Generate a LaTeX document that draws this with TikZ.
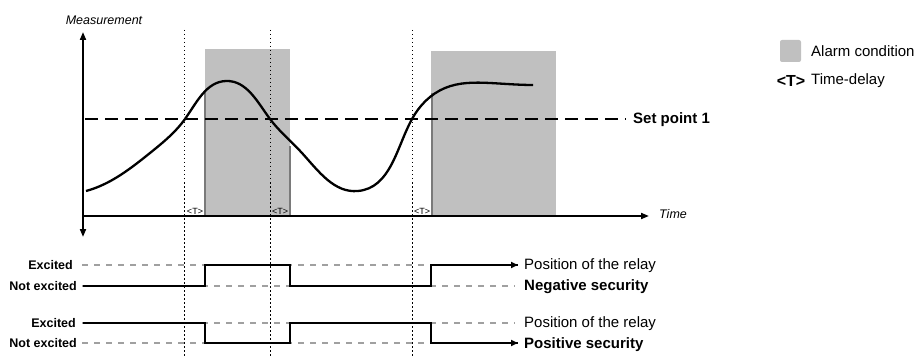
\documentclass[tikz,border=0pt]{standalone}
\usepackage{fontspec}
\setmainfont{Liberation Sans}
\usetikzlibrary{arrows.meta,hobby}
\definecolor{alarmgray}{HTML}{C0C0C0}
\definecolor{edgegray}{HTML}{7A7A7A}
\definecolor{dashgray}{HTML}{A0A0A0}
\newcommand{\fsz}[1]{\fontsize{#1}{#1}\selectfont}
\begin{document}
\begin{tikzpicture}[x=1pt,y=-1pt,
  axisline/.style={line width=1.8pt,black},
  tip/.style={-{Triangle[length=8pt,width=6pt]}},
  dotline/.style={black,line width=0.9pt,dash pattern=on 1.5pt off 2.5pt},
  setline/.style={black,line width=2.2pt,dash pattern=on 13pt off 7pt},
  greydash/.style={dashgray,line width=2pt,dash pattern=on 6pt off 6pt},
  relay/.style={black,line width=2.2pt},
  alarm/.style={fill=alarmgray,draw=none},
  edgeline/.style={edgegray,line width=2pt},
  lbl/.style={inner sep=0pt,font=\fsz{12.5}\bfseries,anchor=east},
  rtxt/.style={inner sep=0pt,font=\fsz{15},anchor=west},
  rtxtb/.style={inner sep=0pt,font=\fsz{15}\bfseries,anchor=west},
  tlbl/.style={inner sep=0pt,font=\fsz{9}},
  curve/.style={black,line width=2.3pt}
]
\useasboundingbox (0,0) rectangle (920,358);

% alarm areas
\fill[alarm] (205,49) rectangle (290,216);
\fill[alarm] (431,51) rectangle (556,216);

% edges of alarm areas
\coordinate (e1t) at (205,92); \coordinate (e1b) at (205,216);
\coordinate (e2t) at (290,146); \coordinate (e2b) at (290,216);
\coordinate (e3t) at (432,93); \coordinate (e3b) at (432,216);
\draw[edgeline] (e1t) -- (e1b);
\draw[edgeline] (e2t) -- (e2b);
\draw[edgeline] (e3t) -- (e3b);

% dotted time markers
\foreach \n/\x in {a/184,b/270,c/412}{
  \coordinate (d\n t) at (\x,30);
  \coordinate (d\n b) at (\x,358);
  \draw[dotline] (d\n t) -- (d\n b);
}

% set point line
\coordinate (sp0) at (85,119);
\coordinate (sp1) at (626,119);
\draw[setline] (sp0) -- (sp1);
\node[inner sep=0pt,anchor=west,font=\fsz{15}\bfseries] (setp) at (633,120) {Set point 1};

% axes
\coordinate (origin) at (83,216);
\coordinate (ytop) at (83,32);
\coordinate (ybot) at (83,237);
\coordinate (xend) at (649,216);
\draw[axisline,tip] (origin) -- (ytop);
\draw[axisline,tip] (origin) -- (ybot);
\draw[axisline,tip] (origin) -- (xend);
\node[inner sep=0pt,font=\fsz{12.5}\itshape] (meas) at (104,20) {Measurement};
\node[inner sep=0pt,anchor=west,font=\fsz{12.5}\itshape] (time) at (659,214) {Time};

% measurement curve
\coordinate (c0) at (86,191);
\coordinate (c1) at (150,153);
\coordinate (c2) at (185,119);
\coordinate (c3) at (226,81);
\coordinate (c4) at (270,119);
\coordinate (c5) at (302,153);
\coordinate (c6) at (358,191);
\coordinate (c7) at (412,119);
\coordinate (c8) at (445,88);
\coordinate (c9) at (490,83);
\coordinate (c10) at (533,85);
\draw[curve,use Hobby shortcut] ([out angle=15]c0) .. (c1) .. (c2) .. (c3) .. (c4) .. (c5) .. (c6) .. (c7) .. (c8) .. (c9) .. ([in angle=180]c10);

% <T> labels
\node[tlbl] (t1) at (195,211) {<T>};
\node[tlbl] (t2) at (280,211) {<T>};
\node[tlbl] (t3) at (422,211) {<T>};

% legend
\node[draw=none,fill=alarmgray,rounded corners=2pt,minimum width=21pt,minimum height=22pt,inner sep=0pt] (legbox) at (790.5,51) {};
\node[rtxt,font=\fsz{15}] (legA) at (811,51) {Alarm condition};
\node[inner sep=0pt,font=\fsz{16}\bfseries] (legT) at (791,81) {<T>};
\node[rtxt,font=\fsz{15}] (legTd) at (811,81) {Time-delay};

% negative security
\node[lbl] (nex) at (73,265) {Excited};
\node[lbl] (nnex) at (77,286) {Not excited};
\coordinate (nh0) at (82,265); \coordinate (nh1) at (515,265);
\coordinate (nl0) at (82,286); \coordinate (nl1) at (515,286);
\draw[greydash] (nh0) -- (nh1);
\draw[greydash] (nl0) -- (nl1);
\coordinate (n0) at (83,286);
\coordinate (n1) at (205,286); \coordinate (n2) at (205,265);
\coordinate (n3) at (290,265); \coordinate (n4) at (290,286);
\coordinate (n5) at (431,286); \coordinate (n6) at (431,265);
\coordinate (n7) at (518,265);
\draw[relay] (n0) -- (n1) -- (n2) -- (n3) -- (n4) -- (n5) -- (n6) -- (n7);
\draw[relay,-{Triangle[length=7pt,width=6pt]}] (n6) -- (n7);
\node[rtxt] (npos) at (524,266) {Position of the relay};
\node[rtxtb] (nsec) at (524,287) {Negative security};

% positive security
\node[lbl] (pex) at (76,323) {Excited};
\node[lbl] (pnex) at (77,343) {Not excited};
\coordinate (ph0) at (82,323); \coordinate (ph1) at (515,323);
\coordinate (pl0) at (82,343); \coordinate (pl1) at (515,343);
\draw[greydash] (ph0) -- (ph1);
\draw[greydash] (pl0) -- (pl1);
\coordinate (p0) at (83,323);
\coordinate (p1) at (205,323); \coordinate (p2) at (205,343);
\coordinate (p3) at (290,343); \coordinate (p4) at (290,323);
\coordinate (p5) at (431,323); \coordinate (p6) at (431,343);
\coordinate (p7) at (518,343);
\draw[relay] (p0) -- (p1) -- (p2) -- (p3) -- (p4) -- (p5) -- (p6) -- (p7);
\draw[relay,-{Triangle[length=7pt,width=6pt]}] (p6) -- (p7);
\node[rtxt] (ppos) at (524,324) {Position of the relay};
\node[rtxtb] (psec) at (524,345) {Positive security};
\end{tikzpicture}
\end{document}
